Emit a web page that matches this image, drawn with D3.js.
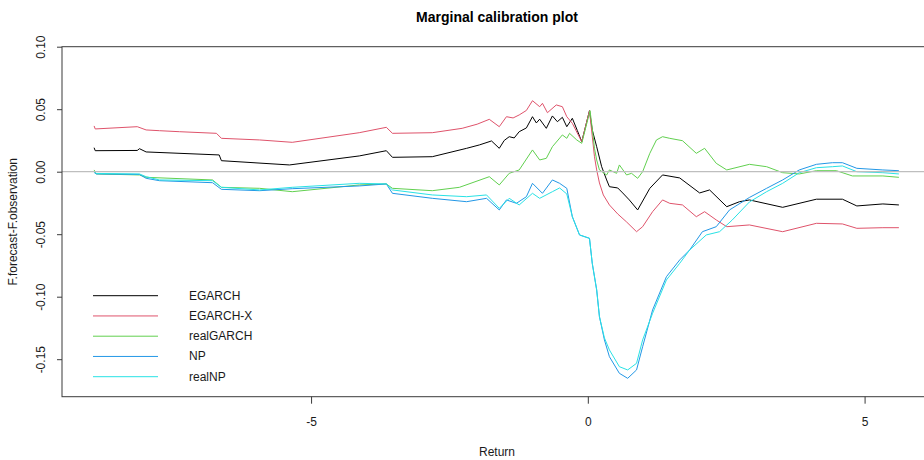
<!DOCTYPE html>
<html>
<head>
<meta charset="utf-8">
<script src="https://cdn.jsdelivr.net/npm/d3@7"></script>
<style>
  html, body { margin: 0; padding: 0; background: #ffffff; }
  svg { display: block; font-family: "Liberation Sans", Arial, sans-serif; }
</style>
</head>
<body>
<svg id="chart" width="924" height="460"></svg>
<script>
// ---------------- data ----------------
const title = "Marginal calibration plot";
const xLabel = "Return";
const yLabel = "F.forecast-F.observation";
const seriesNames = ["EGARCH", "EGARCH-X", "realGARCH", "NP", "realNP"];
const seriesColors = ["#000000", "#DF536B", "#61D04F", "#2297E6", "#28E2E5"];
const xTicks = [-5, 0, 5];
const yTicks = [-0.15, -0.10, -0.05, 0.00, 0.05, 0.10];

const egarchX = [-8.92,-8.90,-8.14,-8.10,-7.98,-6.66,-6.62,-5.39,-4.13,-3.64,-3.53,-2.81,-2.19,-1.96,-1.74,-1.60,-1.51,-1.42,-1.33,-1.24,-1.11,-1.00,-0.93,-0.87,-0.75,-0.64,-0.55,-0.46,-0.38,-0.28,-0.19,-0.11,0.03,0.08,0.16,0.25,0.34,0.39,0.54,0.63,0.75,0.90,1.12,1.35,1.66,2.02,2.20,2.51,2.74,2.92,3.52,4.13,4.60,4.86,5.33,5.62];
const egarchY = [0.0192,0.0168,0.0170,0.0184,0.0158,0.0134,0.0088,0.0054,0.0126,0.0168,0.0115,0.0120,0.0187,0.0214,0.0246,0.0187,0.0250,0.0280,0.0270,0.0320,0.0350,0.0440,0.0390,0.0420,0.0347,0.0446,0.0400,0.0435,0.0360,0.0427,0.0330,0.0240,0.0488,0.0334,0.0200,0.0040,-0.0066,-0.0120,-0.0130,-0.0170,-0.0226,-0.0306,-0.0133,-0.0026,-0.0050,-0.0170,-0.0146,-0.0280,-0.0240,-0.0226,-0.0285,-0.0220,-0.0220,-0.0274,-0.0258,-0.0266];

const egarchXX = [-8.92,-8.90,-8.14,-7.98,-7.74,-7.38,-6.71,-6.62,-5.93,-5.34,-4.13,-3.64,-3.53,-2.81,-2.27,-2.00,-1.78,-1.60,-1.47,-1.35,-1.24,-1.11,-1.00,-0.87,-0.82,-0.73,-0.57,-0.46,-0.38,-0.28,-0.11,0.03,0.12,0.16,0.21,0.28,0.39,0.54,0.70,0.88,0.99,1.17,1.35,1.48,1.71,1.96,2.11,2.32,2.51,2.92,3.52,4.13,4.60,4.86,5.33,5.62];
const egarchXY = [0.0366,0.0342,0.0360,0.0334,0.0328,0.0320,0.0307,0.0267,0.0254,0.0235,0.0312,0.0355,0.0307,0.0312,0.0347,0.0380,0.0419,0.0360,0.0440,0.0430,0.0454,0.0490,0.0568,0.0520,0.0547,0.0472,0.0534,0.0520,0.0440,0.0387,0.0240,0.0488,0.0120,0.0014,-0.0090,-0.0186,-0.0266,-0.0338,-0.0402,-0.0480,-0.0440,-0.0320,-0.0226,-0.0253,-0.0266,-0.0360,-0.0320,-0.0386,-0.0440,-0.0426,-0.0480,-0.0413,-0.0418,-0.0453,-0.0448,-0.0448];

const realGarchX = [-8.92,-8.88,-8.10,-7.98,-6.78,-6.62,-5.93,-5.34,-4.13,-3.64,-3.53,-2.81,-2.32,-1.78,-1.60,-1.42,-1.24,-1.00,-0.87,-0.75,-0.64,-0.46,-0.38,-0.33,-0.20,-0.11,0.04,0.08,0.12,0.16,0.21,0.34,0.39,0.52,0.57,0.70,0.79,0.90,0.99,1.12,1.24,1.35,1.48,1.71,1.96,2.11,2.32,2.51,2.92,3.23,3.52,3.82,4.13,4.49,4.78,5.33,5.62];
const realGarchY = [0.0014,-0.0018,-0.0026,-0.0045,-0.0066,-0.0125,-0.0133,-0.0160,-0.0106,-0.0098,-0.0133,-0.0152,-0.0125,-0.0040,-0.0106,-0.0013,0.0014,0.0174,0.0094,0.0107,0.0200,0.0294,0.0267,0.0307,0.0254,0.0227,0.0488,0.0347,0.0187,0.0094,0.0014,-0.0026,0.0014,-0.0013,0.0054,-0.0026,-0.0013,-0.0053,0.0000,0.0147,0.0254,0.0280,0.0267,0.0248,0.0147,0.0187,0.0067,0.0014,0.0059,0.0040,-0.0008,-0.0018,0.0008,0.0008,-0.0034,-0.0034,-0.0045];

const npX = [-8.92,-8.88,-8.10,-7.98,-7.74,-6.78,-6.62,-5.93,-5.34,-4.13,-3.64,-3.53,-2.81,-2.19,-1.83,-1.60,-1.47,-1.29,-1.11,-1.00,-0.82,-0.64,-0.51,-0.38,-0.28,-0.15,0.03,0.08,0.16,0.21,0.30,0.39,0.57,0.72,0.88,0.99,1.17,1.42,1.66,1.84,2.07,2.32,2.56,2.92,3.23,3.52,3.82,4.13,4.42,4.60,4.86,5.33,5.62];
const npY = [-0.0006,-0.0018,-0.0022,-0.0053,-0.0072,-0.0088,-0.0141,-0.0152,-0.0136,-0.0114,-0.0098,-0.0173,-0.0213,-0.0240,-0.0213,-0.0306,-0.0226,-0.0253,-0.0200,-0.0093,-0.0173,-0.0066,-0.0093,-0.0133,-0.0360,-0.0506,-0.0533,-0.0733,-0.0946,-0.1160,-0.1346,-0.1480,-0.1613,-0.1653,-0.1586,-0.1400,-0.1106,-0.0840,-0.0706,-0.0626,-0.0480,-0.0440,-0.0306,-0.0206,-0.0133,-0.0066,0.0014,0.0059,0.0072,0.0072,0.0027,0.0014,0.0008];

const realNpX = [-8.92,-8.88,-8.10,-7.98,-7.74,-6.78,-6.62,-5.93,-5.34,-4.13,-3.64,-3.53,-2.81,-2.19,-1.83,-1.60,-1.42,-1.24,-1.00,-0.87,-0.64,-0.51,-0.38,-0.28,-0.15,0.03,0.08,0.16,0.21,0.30,0.39,0.57,0.72,0.88,0.99,1.17,1.42,1.66,1.84,2.14,2.38,2.61,2.92,3.23,3.52,3.82,4.13,4.42,4.60,4.86,5.33,5.62];
const realNpY = [0.0000,-0.0014,-0.0018,-0.0040,-0.0066,-0.0072,-0.0125,-0.0146,-0.0125,-0.0093,-0.0098,-0.0146,-0.0186,-0.0200,-0.0186,-0.0293,-0.0213,-0.0266,-0.0173,-0.0213,-0.0160,-0.0130,-0.0178,-0.0360,-0.0506,-0.0533,-0.0733,-0.0946,-0.1160,-0.1330,-0.1426,-0.1560,-0.1586,-0.1533,-0.1346,-0.1133,-0.0866,-0.0733,-0.0626,-0.0506,-0.0480,-0.0386,-0.0242,-0.0160,-0.0093,-0.0008,0.0032,0.0040,0.0046,0.0000,-0.0008,-0.0018];

const seriesX = [egarchX, egarchXX, realGarchX, npX, realNpX];
const seriesY = [egarchY, egarchXY, realGarchY, npY, realNpY];

// ---------------- layout ----------------
const svg = d3.select("#chart");
const plot = { left: 62, right: 931, top: 46.7, bottom: 396.7 };

const x = d3.scaleLinear().domain([-9.50, 6.20]).range([plot.left, plot.right]);
const y = d3.scaleLinear().domain([-0.18, 0.10]).range([plot.bottom, plot.top]);

const textColor = "#1a1a1a";
const axisColor = "#3a3a3a";

svg.append("text")
  .attr("x", 497).attr("y", 17)
  .attr("text-anchor", "middle").attr("dominant-baseline", "central")
  .attr("font-size", 14).attr("font-weight", "bold").attr("fill", "#000")
  .text(title);

const line = d3.line().x(d => x(d[0])).y(d => y(d[1]));
const g = svg.append("g");
seriesNames.forEach((name, i) => {
  const pts = seriesX[i].map((v, j) => [v, seriesY[i][j]]);
  g.append("path")
    .datum(pts)
    .attr("d", line)
    .attr("fill", "none")
    .attr("stroke", seriesColors[i])
    .attr("stroke-width", 1)
    .attr("stroke-linejoin", "round");
});

svg.append("line")
  .attr("x1", plot.left).attr("x2", plot.right)
  .attr("y1", y(0)).attr("y2", y(0))
  .attr("stroke", "#bebebe").attr("stroke-width", 1.2);

svg.append("rect")
  .attr("x", plot.left).attr("y", plot.top)
  .attr("width", plot.right - plot.left).attr("height", plot.bottom - plot.top)
  .attr("fill", "none").attr("stroke", axisColor).attr("stroke-width", 1);

const xAxis = svg.append("g")
  .attr("transform", `translate(0,${plot.bottom})`)
  .call(d3.axisBottom(x).tickValues(xTicks).tickSize(7).tickSizeOuter(0).tickFormat(d => String(d)));
xAxis.select(".domain").remove();
xAxis.selectAll("line").attr("stroke", axisColor);
xAxis.selectAll("text")
  .attr("y", 25).attr("dy", "0.32em")
  .attr("font-size", 12).attr("fill", textColor)
  .style("font-family", "'Liberation Sans', Arial, sans-serif");

const yAxis = svg.append("g")
  .attr("transform", `translate(${plot.left},0)`)
  .call(d3.axisLeft(y).tickValues(yTicks).tickSize(5).tickSizeOuter(0).tickFormat(d => d.toFixed(2)));
yAxis.select(".domain").remove();
yAxis.selectAll("line").attr("stroke", axisColor);
yAxis.selectAll("text")
  .attr("transform", "rotate(-90)")
  .attr("x", 0).attr("y", -21).attr("dy", "0.35em")
  .attr("text-anchor", "middle")
  .attr("font-size", 12).attr("fill", textColor)
  .style("font-family", "'Liberation Sans', Arial, sans-serif");

svg.append("text")
  .attr("x", 497).attr("y", 452)
  .attr("text-anchor", "middle").attr("dominant-baseline", "central")
  .attr("font-size", 12).attr("fill", textColor)
  .text(xLabel);

svg.append("text")
  .attr("transform", `translate(13,${(plot.top + plot.bottom) / 2}) rotate(-90)`)
  .attr("text-anchor", "middle").attr("dominant-baseline", "central")
  .attr("font-size", 12).attr("fill", textColor)
  .text(yLabel);

const legend = svg.append("g");
seriesNames.forEach((name, i) => {
  const ly = 295.7 + i * 20.25;
  legend.append("line")
    .attr("x1", 93).attr("x2", 158).attr("y1", ly).attr("y2", ly)
    .attr("stroke", seriesColors[i]).attr("stroke-width", 1);
  legend.append("text")
    .attr("x", 189).attr("y", ly)
    .attr("dominant-baseline", "central")
    .attr("font-size", 12).attr("fill", textColor)
    .text(name);
});
</script>
</body>
</html>
